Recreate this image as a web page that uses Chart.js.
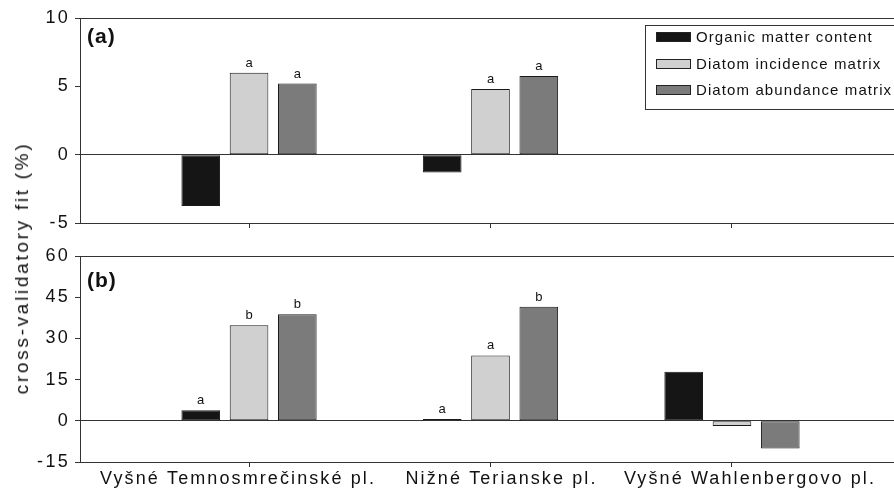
<!DOCTYPE html>
<html lang="sk">

<head>
  <meta charset="utf-8">
  <title>cross-validatory fit</title>
  <style>
    html, body { margin: 0; padding: 0; background: #fff; overflow: hidden; width: 894px; height: 495px; }
    #wrap { position: relative; width: 894px; height: 495px; overflow: hidden; }
    canvas { position: absolute; left: 0; }
    #chartA { top: 0; }
    #chartB { top: 240px; }
    #ytitle {
      position: absolute; left: 22px; top: 268px;
      transform: translate(-50%, -50%) rotate(-90deg);
      white-space: nowrap; color: #111;
      font: 19px "Liberation Sans", Arial, sans-serif; letter-spacing: 2.7px;
    }
  </style>
</head>

<body>
  <div id="wrap">
    <canvas id="chartA" width="910" height="240"></canvas>
    <canvas id="chartB" width="910" height="255"></canvas>
    <div id="ytitle">cross-validatory fit (%)</div>
  </div>
  <script src="https://cdn.jsdelivr.net/npm/chart.js@4.4.1/dist/chart.umd.min.js"></script>
  <script>
    // categories and series
    var categories = ['Vyšné Temnosmrečinské pl.', 'Nižné Terianske pl.', 'Vyšné Wahlenbergovo pl.'];
    var seriesNames = ['Organic matter content', 'Diatom incidence matrix', 'Diatom abundance matrix'];
    var seriesColors = ['#151515', '#d0d0d0', '#7b7b7b'];

    // panel (a)
    var organicA = [-3.75, -1.3, null];
    var incidenceA = [6.0, 4.8, null];
    var abundanceA = [5.2, 5.75, null];
    var lettersOrganicA = ['', '', ''];
    var lettersIncidenceA = ['a', 'a', ''];
    var lettersAbundanceA = ['a', 'a', ''];
    var ticksA = [-5, 0, 5, 10];

    // panel (b)
    var organicB = [3.8, 0.7, 17.9];
    var incidenceB = [34.8, 23.8, -1.9];
    var abundanceB = [38.8, 41.5, -10.1];
    var lettersOrganicB = ['a', 'a', ''];
    var lettersIncidenceB = ['b', 'a', ''];
    var lettersAbundanceB = ['b', 'b', ''];
    var ticksB = [-15, 0, 15, 30, 45, 60];

    var FONT = '"Liberation Sans", Arial, sans-serif';
    var LINE = '#333';
    var TEXT = '#111';
    // the original labels sit a little off their ticks
    var labelShift = [-11, 11, 18];

    var spacingPlugin = {
      id: 'spacing',
      beforeUpdate: function (chart) { chart.ctx.letterSpacing = '2.3px'; },
      beforeDraw: function (chart) { chart.ctx.letterSpacing = '2.3px'; }
    };

    var lettersPlugin = {
      id: 'letters',
      afterDatasetsDraw: function (chart, args, opts) {
        var ctx = chart.ctx;
        ctx.save();
        ctx.fillStyle = TEXT;
        ctx.letterSpacing = '0px';
        ctx.font = '13px ' + FONT;
        ctx.textAlign = 'center';
        ctx.textBaseline = 'alphabetic';
        opts.letters.forEach(function (arr, d) {
          var meta = chart.getDatasetMeta(d);
          arr.forEach(function (t, i) {
            if (!t) return;
            var bar = meta.data[i];
            ctx.fillText(t, bar.x, Math.min(bar.y, bar.base) - 6);
          });
        });
        ctx.letterSpacing = '1px';
        ctx.font = 'bold 21px ' + FONT;
        ctx.textAlign = 'left';
        ctx.fillText(opts.panel, chart.chartArea.left + 7, chart.chartArea.top + opts.panelDy);
        ctx.restore();
      }
    };

    // category names under the lower panel
    var catLabelPlugin = {
      id: 'catLabels',
      afterDraw: function (chart, args, opts) {
        if (!opts.show) return;
        var ctx = chart.ctx;
        var xs = chart.scales.x;
        ctx.save();
        ctx.fillStyle = TEXT;
        ctx.font = '18px ' + FONT;
        ctx.letterSpacing = '2.1px';
        ctx.textAlign = 'center';
        ctx.textBaseline = 'top';
        categories.forEach(function (c, i) {
          ctx.fillText(c, xs.getPixelForValue(i + 1) + labelShift[i], chart.chartArea.bottom + 8);
        });
        ctx.restore();
      }
    };

    var legendPlugin = {
      id: 'boxLegend',
      afterDraw: function (chart, args, opts) {
        if (!opts.show) return;
        var ctx = chart.ctx;
        ctx.save();
        ctx.fillStyle = '#fff';
        ctx.fillRect(645.5, 25.5, 300, 84);
        ctx.strokeStyle = '#333';
        ctx.lineWidth = 1;
        ctx.strokeRect(645.5, 25.5, 300, 84);
        var rows = [37, 64, 90];
        ctx.font = '15px ' + FONT;
        ctx.letterSpacing = '1.1px';
        ctx.textBaseline = 'middle';
        ctx.textAlign = 'left';
        chart.data.datasets.forEach(function (ds, i) {
          ctx.fillStyle = ds.backgroundColor;
          ctx.fillRect(656.5, rows[i] - 4.5, 34, 9);
          ctx.strokeStyle = '#222';
          ctx.strokeRect(656.5, rows[i] - 4.5, 34, 9);
          ctx.fillStyle = TEXT;
          ctx.fillText(ds.label, 696, rows[i] + 1);
        });
        ctx.restore();
      }
    };

    function makeDatasets(lists) {
      return lists.map(function (vals, k) {
        return {
          label: seriesNames[k],
          data: vals.map(function (v, i) { return { x: i + 1, y: v }; }),
          backgroundColor: seriesColors[k],
          borderColor: '#1a1a1a',
          borderWidth: 1,
          borderSkipped: false,
          categoryPercentage: 0.6,
          barPercentage: 0.8
        };
      });
    }

    function makeChart(id, lists, letters, ticks, opts) {
      var min = ticks[0], max = ticks[ticks.length - 1];
      return new Chart(document.getElementById(id).getContext('2d'), {
        type: 'bar',
        data: { datasets: makeDatasets(lists) },
        plugins: [spacingPlugin, lettersPlugin, legendPlugin, catLabelPlugin],
        options: {
          responsive: false,
          animation: false,
          layout: { padding: { left: 0, right: 9, top: opts.top, bottom: 0 } },
          plugins: {
            legend: { display: false },
            tooltip: { enabled: false },
            letters: { letters: letters, panel: opts.panel, panelDy: opts.panelDy },
            boxLegend: { show: opts.legend },
            catLabels: { show: opts.labels }
          },
          scales: {
            x: {
              type: 'linear',
              min: 0.3,
              max: categories.length + 0.7,
              offset: false,
              afterBuildTicks: function (s) {
                s.ticks = categories.map(function (c, i) { return { value: i + 1 }; });
              },
              afterFit: function (s) { s.height = opts.xHeight; },
              grid: { offset: false, drawOnChartArea: false, drawTicks: true, tickLength: 5, tickColor: LINE },
              border: { display: true, color: LINE, width: 1 },
              ticks: { display: false }
            },
            y: {
              min: min,
              max: max,
              afterBuildTicks: function (s) {
                s.ticks = ticks.map(function (t) { return { value: t }; });
              },
              afterFit: function (s) { s.width = 80; },
              grid: {
                drawTicks: true,
                tickLength: 5,
                tickColor: LINE,
                color: function (c) {
                  var v = c.tick ? c.tick.value : null;
                  return (v === 0 || v === max) ? LINE : 'rgba(0,0,0,0)';
                }
              },
              border: { display: true, color: LINE, width: 1 },
              ticks: {
                padding: 5,
                color: TEXT,
                font: { family: FONT, size: 18 }
              }
            }
          }
        }
      });
    }

    makeChart('chartA', [organicA, incidenceA, abundanceA],
      [lettersOrganicA, lettersIncidenceA, lettersAbundanceA], ticksA,
      { top: 18, xHeight: 17, labels: false, panel: '(a)', panelDy: 25, legend: true });

    makeChart('chartB', [organicB, incidenceB, abundanceB],
      [lettersOrganicB, lettersIncidenceB, lettersAbundanceB], ticksB,
      { top: 16, xHeight: 33, labels: true, panel: '(b)', panelDy: 31, legend: false });
  </script>
</body>

</html>
